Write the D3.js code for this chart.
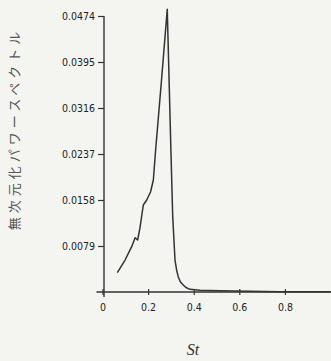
<!DOCTYPE html>
<html><head><meta charset="utf-8">
<script src="https://cdn.jsdelivr.net/npm/d3@7"></script>
<style>
html,body{margin:0;padding:0;background:#f4f4f1;}
svg{display:block;}
</style></head>
<body>
<script>
// Data
const st = [0.065,0.099,0.128,0.143,0.154,0.164,0.179,0.194,0.211,0.223,0.233,0.258,0.284,0.300,0.308,0.318,0.325,0.332,0.342,0.354,0.366,0.384,0.428,0.515,0.778,1.0];
const power = [0.00331,0.00549,0.00778,0.00932,0.00893,0.01094,0.01494,0.01580,0.01722,0.01923,0.02438,0.03600,0.04854,0.02438,0.01293,0.00549,0.00378,0.00263,0.00172,0.00120,0.00077,0.00046,0.00029,0.00022,0.00005,0.00003];
const yTicks = [0.0079,0.0158,0.0237,0.0316,0.0395,0.0474];
const yTickLabels = ["0.0079","0.0158","0.0237","0.0316","0.0395","0.0474"];
const xTicks = [0,0.2,0.4,0.6,0.8];
const xTickLabels = ["0","0.2","0.4","0.6","0.8"];
const yTitle = "無次元化パワースペクトル";
const xTitle = "St";

const W = 331, H = 361;
const svg = d3.select("body").append("svg").attr("width", W).attr("height", H);
const x = d3.scaleLinear().domain([0,1]).range([102.5,330.5]);
const y = d3.scaleLinear().domain([0,0.0474]).range([292,16]);
const ink = "#333";
const tickFont = "'DejaVu Sans Condensed','DejaVu Sans',sans-serif";

// axes lines
svg.append("line").attr("x1",x(0)+1.5).attr("x2",x(0)+1.5).attr("y1",y(0.0474)).attr("y2",y(0)+5)
  .attr("stroke",ink).attr("stroke-width",1.4);
svg.append("line").attr("x1",x(0)-6).attr("x2",W).attr("y1",y(0)).attr("y2",y(0))
  .attr("stroke",ink).attr("stroke-width",1.6);

// y axis
const ya = svg.append("g").attr("transform",`translate(${x(0)+1.5},0)`)
  .call(d3.axisLeft(y).tickValues(yTicks).tickFormat((d,i)=>yTickLabels[i]).tickSize(6).tickSizeOuter(0).tickPadding(3));
ya.select(".domain").remove();
ya.selectAll(".tick line").attr("stroke",ink).attr("stroke-width",1.2);
ya.selectAll(".tick text").attr("fill","#222").style("font-family",tickFont).style("font-stretch","condensed").style("font-size","10.5px");

// x axis
const xa = svg.append("g").attr("transform",`translate(0,${y(0)+3})`)
  .call(d3.axisBottom(x).tickValues(xTicks).tickFormat((d,i)=>xTickLabels[i]).tickSize(6).tickSizeOuter(0).tickPadding(4));
xa.select(".domain").remove();
xa.selectAll(".tick line").attr("stroke",ink).attr("stroke-width",1.2).attr("y1",-6).attr("y2",0);
xa.selectAll(".tick text").attr("fill","#222").style("font-family",tickFont).style("font-stretch","condensed").style("font-size","10.5px").attr("y",9);

// curve
const line = d3.line().x((d,i)=>x(st[i])).y((d,i)=>y(power[i]));
svg.append("path").datum(st).attr("d",line).attr("fill","none").attr("stroke",ink)
  .attr("stroke-width",1.5).attr("stroke-linejoin","round");

// titles
svg.append("text").attr("transform","translate(13,129) rotate(-90)").attr("text-anchor","middle")
  .attr("dominant-baseline","central").attr("fill","#555")
  .style("font-family","'Noto Sans CJK JP',sans-serif").style("font-size","13px").style("letter-spacing","4px")
  .text(yTitle);
svg.append("text").attr("x",193).attr("y",355).attr("text-anchor","middle").attr("fill","#333")
  .style("font-family","'Liberation Serif',serif").style("font-style","italic").style("font-size","16px")
  .text(xTitle);
</script>
</body></html>
